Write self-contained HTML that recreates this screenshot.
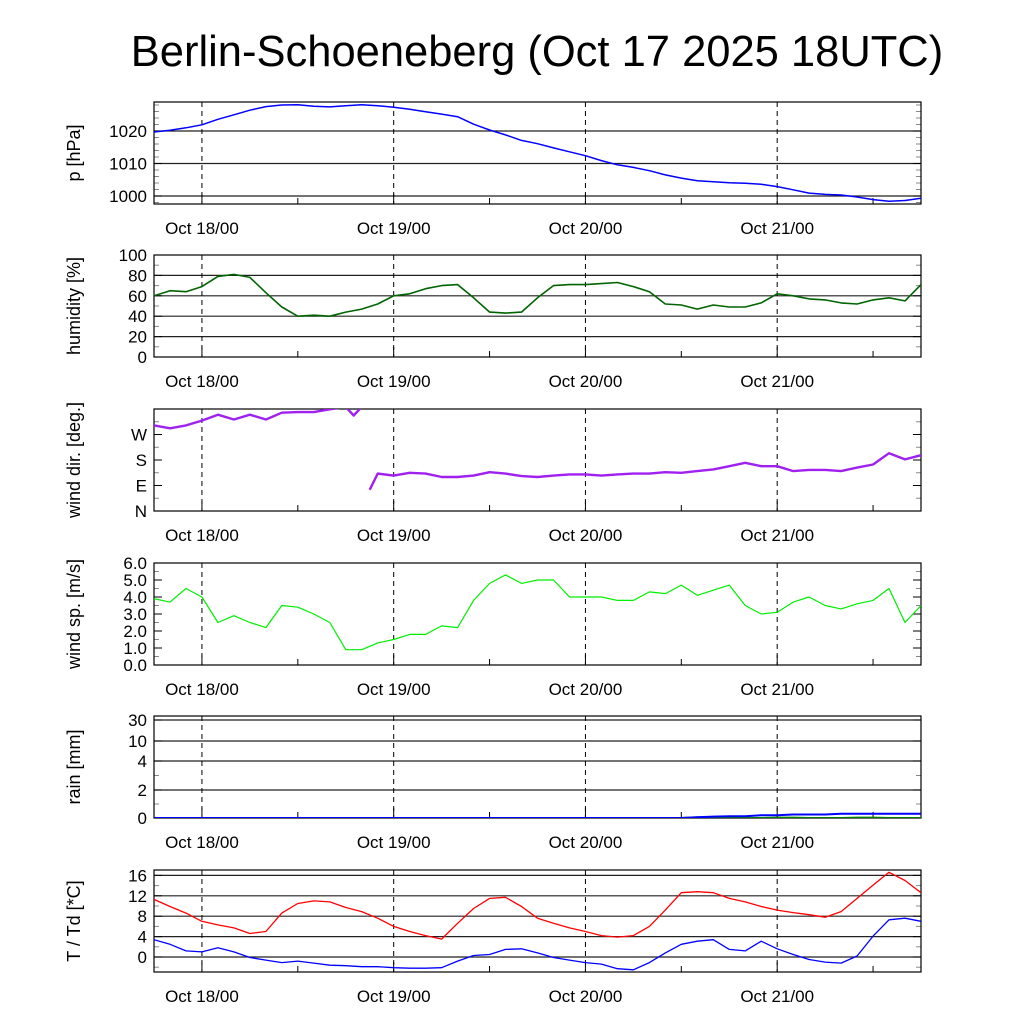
<!DOCTYPE html>
<html><head><meta charset="utf-8"><style>
html,body{margin:0;padding:0;background:#fff;}
svg{display:block;font-family:"Liberation Sans",Arial,sans-serif;}
</style></head><body>
<svg id="chart" width="1024" height="1024" viewBox="0 0 1024 1024" xmlns="http://www.w3.org/2000/svg">
<text x="537" y="66" font-size="43.5" text-anchor="middle">Berlin-Schoeneberg (Oct 17 2025 18UTC)</text>
</svg>
<script>
const hours = [0,2,4,6,8,10,12,14,16,18,20,22,24,26,28,30,32,34,36,38,40,42,44,46,48,50,52,54,56,58,60,62,64,66,68,70,72,74,76,78,80,82,84,86,88,90,92,94,96];
const pressure = [1019.7,1020.2,1021,1021.9,1023.6,1025,1026.4,1027.5,1028,1028.1,1027.6,1027.4,1027.8,1028.1,1027.8,1027.3,1026.7,1025.9,1025.2,1024.4,1022.1,1020.3,1018.8,1017.1,1016.1,1014.8,1013.6,1012.4,1010.9,1009.6,1008.8,1007.8,1006.5,1005.5,1004.7,1004.4,1004.1,1003.9,1003.6,1002.9,1001.9,1000.9,1000.5,1000.3,999.7,998.9,998.4,998.6,999.3];
const humidity = [60,65,64,69,79,81,78,63,49,40,41,40,44,47,52,60,62,67,70,71,58,44,43,44,58,70,71,71,72,73,69,64,52,51,47,51,49,49,53,62,60,57,56,53,52,56,58,55,71];
const dirHours = [0,2,4,6,8,10,12,14,16,18,20,22,24,25,26,27,28,30,32,34,36,38,40,42,44,46,48,50,52,54,56,58,60,62,64,66,68,70,72,74,76,78,80,82,84,86,88,90,92,94,96];
const windDir = [302,292,302,319,340,323,340,323,347,349,349,359,367,337,367,75,132,125,135,132,120,120,125,137,132,123,120,125,129,129,125,129,132,132,137,135,141,147,158,170,158,158,141,145,145,141,153,164,204,182,197];
const windSpeed = [3.9,3.7,4.5,4.0,2.5,2.9,2.5,2.2,3.5,3.4,3.0,2.5,0.9,0.9,1.3,1.5,1.8,1.8,2.3,2.2,3.8,4.8,5.3,4.8,5.0,5.0,4.0,4.0,4.0,3.8,3.8,4.3,4.2,4.7,4.1,4.4,4.7,3.5,3.0,3.1,3.7,4.0,3.5,3.3,3.6,3.8,4.5,2.5,3.5];
const rainTotal = [0,0,0,0,0,0,0,0,0,0,0,0,0,0,0,0,0,0,0,0,0,0,0,0,0,0,0,0,0,0,0,0,0,0,0.05,0.1,0.12,0.13,0.2,0.2,0.25,0.25,0.25,0.3,0.3,0.3,0.3,0.3,0.3];
const rainHourly = [0,0,0,0,0,0,0,0,0,0,0,0,0,0,0,0,0,0,0,0,0,0,0,0,0,0,0,0,0,0,0,0,0,0,0.05,0.05,0.03,0,0,0.03,0.03,0,0,0,0.03,0.03,0,0,0];
const temperature = [11.3,9.9,8.6,7.0,6.3,5.7,4.6,5.0,8.6,10.5,11.0,10.8,9.7,8.9,7.6,6.0,5.0,4.2,3.5,6.6,9.5,11.5,11.7,9.9,7.6,6.6,5.7,5.0,4.2,3.9,4.2,6.0,9.2,12.6,12.8,12.6,11.5,10.8,9.9,9.2,8.7,8.3,7.8,8.9,11.5,14.1,16.6,15.0,12.6];
const dewpoint = [3.4,2.5,1.2,1.0,1.8,1.0,-0.1,-0.6,-1.1,-0.8,-1.2,-1.6,-1.7,-1.9,-1.9,-2.1,-2.2,-2.2,-2.1,-0.8,0.3,0.5,1.5,1.6,0.8,-0.1,-0.6,-1.1,-1.4,-2.3,-2.5,-1.1,0.8,2.5,3.1,3.4,1.5,1.2,3.1,1.6,0.5,-0.5,-1.0,-1.2,0.2,4.1,7.3,7.6,7.0];
const dayHours = [6,30,54,78];
const dayLabels = ["Oct 18/00","Oct 19/00","Oct 20/00","Oct 21/00"];
const pTicks = [1020,1010,1000];
const humTicks = [0,20,40,60,80,100];
const dirTicks = [0,90,180,270];
const dirLabels = ["N","E","S","W"];
const wsTicks = [0,1,2,3,4,5,6];
const rainTicks = [0,2,4,10,30];
const tTicks = [0,4,8,12,16];

const NS="http://www.w3.org/2000/svg";
const svg=document.getElementById('chart');
const X0=154,X1=921,HMAX=96;
const xS=h=>X0+(h/HMAX)*(X1-X0);
function el(tag,attrs,parent){const e=document.createElementNS(NS,tag);for(const k in attrs)e.setAttribute(k,attrs[k]);(parent||svg).appendChild(e);return e;}

function rainScale(){const dv=[0,2,4,10,30],py=[818,790,761,741,720];
 return v=>{for(let i=0;i<dv.length-1;i++){if(v<=dv[i+1]){return py[i]+(v-dv[i])/(dv[i+1]-dv[i])*(py[i+1]-py[i]);}}return py[4];};}

function panel(name,top,bot,yS,ticks,labels,gridVals,title,minorStep,minorRange){
  const g=el('g',{});
  
  
  const cid='clip-'+name;
  const cp=el('clipPath',{id:cid},g);el('rect',{x:X0,y:top,width:X1-X0,height:bot-top},cp);
  gridVals.forEach(v=>{const l=el('line',{x1:X0,x2:X1,y1:yS(v),y2:yS(v),stroke:'#222','stroke-width':1.2},g);
    
    });
  dayHours.forEach(h=>{const l=el('line',{x1:xS(h),x2:xS(h),y1:top,y2:bot,stroke:'#000','stroke-width':1,'stroke-dasharray':'5,4'},g);
    
    });
  if(minorStep){for(let v=minorRange[0];v<=minorRange[1]+1e-9;v+=minorStep){const y=yS(v);if(y<top-0.5||y>bot+0.5)continue;
    el('line',{x1:X0,x2:X0+5,y1:y,y2:y,stroke:'#888','stroke-width':1},g);el('line',{x1:X1-5,x2:X1,y1:y,y2:y,stroke:'#888','stroke-width':1},g);}}
  ticks.forEach((v,i)=>{const y=yS(v);el('line',{x1:X0,x2:X0+8,y1:y,y2:y,stroke:'#000'},g);el('line',{x1:X1-8,x2:X1,y1:y,y2:y,stroke:'#000'},g);
    const t=el('text',{x:X0-7,y:y+6,'font-size':17,'text-anchor':'end'},g);t.textContent=labels[i];
    
    });
  for(let h=6;h<HMAX;h+=12){const big=((h-6)%24===0);el('line',{x1:xS(h),x2:xS(h),y1:bot-(big?10:6),y2:bot,stroke:'#000'},g);}
  dayHours.forEach((h,i)=>{const t=el('text',{x:xS(h),y:bot+30,'font-size':17,'text-anchor':'middle'},g);t.textContent=dayLabels[i];
    
    });
  el('rect',{x:X0,y:top,width:X1-X0,height:bot-top,fill:'none',stroke:'#000','stroke-width':1.2},g);
  const yt=el('text',{x:0,y:0,'font-size':18,'text-anchor':'middle',transform:`translate(${X0-74},${(top+bot)/2}) rotate(-90)`},g);
  yt.textContent=title;
  
  
  return {g,cid};
}
function series(p,name,hs,vals,yS,color,width,breakWrap){
  let d='',prev=null;
  hs.forEach((h,i)=>{const x=xS(h),y=yS(vals[i]);
    const cmd=(prev===null||(breakWrap&&Math.abs(vals[i]-prev)>180))?'M':'L';
    d+=cmd+x.toFixed(1)+','+y.toFixed(1)+' ';prev=vals[i];});
  const path=el('path',{d:d,fill:'none',stroke:color,'stroke-width':width,'stroke-linejoin':'round','clip-path':`url(#${p.cid})`},p.g);
  
  
}

const yP=v=>196-(v-1000)*3.25;
const p1=panel('pressure',102,204,yP,pTicks,pTicks.map(String),pTicks,'p [hPa]',2,[998,1028]);
series(p1,'pressure-line',hours,pressure,yP,'#0000ff',1.5);

const yH=v=>357-v*1.02;
const p2=panel('humidity',255,357,yH,humTicks,humTicks.map(String),[20,40,60,80],'humidity [%]',10,[0,100]);
series(p2,'humidity-line',hours,humidity,yH,'#006400',1.6);

const yD=v=>511-v*(102/360);
const p3=panel('wind-dir',409,511,yD,dirTicks,dirLabels,[],'wind dir. [deg.]',45,[0,360]);
series(p3,'wind-dir-line',dirHours,windDir,yD,'#a020f0',2.4,true);

const yW=v=>665-v*17;
const p4=panel('wind-speed',563,665,yW,wsTicks,wsTicks.map(v=>v.toFixed(1)),[],'wind sp. [m/s]',0.5,[0,6]);
series(p4,'wind-speed-line',hours,windSpeed,yW,'#00ee00',1.2);

const yR=rainScale();
const p5=panel('rain',716,818,yR,rainTicks,rainTicks.map(String),[2,4,10,30],'rain [mm]',1,[0,4]);
series(p5,'rain-hourly-line',hours,rainHourly,yR,'#008000',2);
series(p5,'rain-total-line',hours,rainTotal,yR,'#0000ff',2);

const yT=v=>957-v*5.1;
const p6=panel('temperature',870,972,yT,tTicks,tTicks.map(String),tTicks,'T / Td [*C]',2,[-2,16]);
series(p6,'temperature-line',hours,temperature,yT,'#ff0000',1.3);
series(p6,'dewpoint-line',hours,dewpoint,yT,'#0000ff',1.3);
</script>
</body></html>
